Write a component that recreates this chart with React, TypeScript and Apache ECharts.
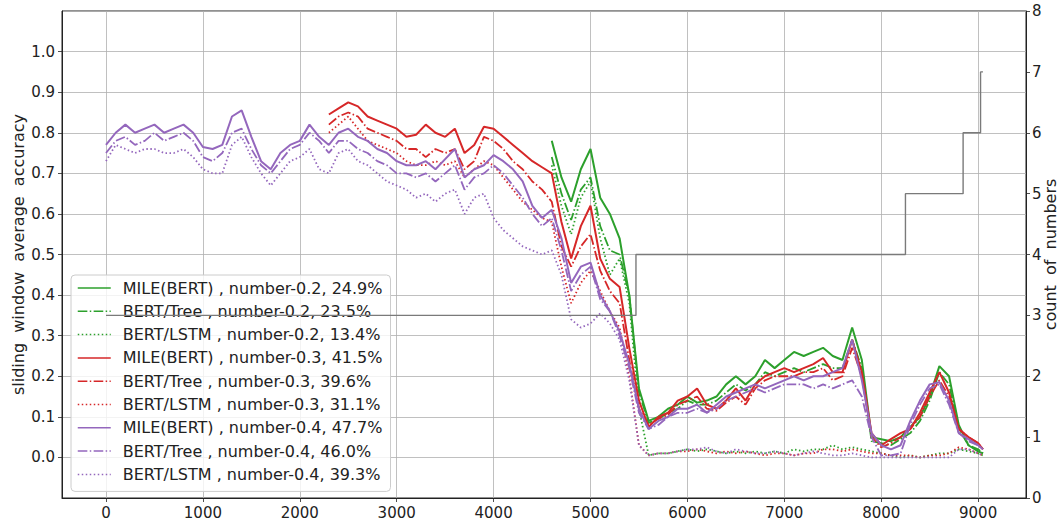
import React, { useEffect, useRef } from "react";
import * as echarts from "echarts";

// sample positions (x) shared by all accuracy series
const X = [
  0, 100, 200, 300, 400, 500, 600, 700, 800, 900,
  1000, 1100, 1200, 1300, 1400, 1500, 1600, 1700, 1800, 1900,
  2000, 2100, 2200, 2300, 2400, 2500, 2600, 2700, 2800, 2900,
  3000, 3100, 3200, 3300, 3400, 3500, 3600, 3700, 3800, 3900,
  4000, 4100, 4200, 4300, 4400, 4500, 4600, 4700, 4800, 4900,
  5000, 5100, 5200, 5300, 5400, 5500, 5600, 5700, 5800, 5900,
  6000, 6100, 6200, 6300, 6400, 6500, 6600, 6700, 6800, 6900,
  7000, 7100, 7200, 7300, 7400, 7500, 7600, 7700, 7800, 7900,
  8000, 8100, 8200, 8300, 8400, 8500, 8600, 8700, 8800, 8900,
  9000, 9050,
];
const RED_START = 23; // x = 2300
const GREEN_START = 46; // x = 4600

// number-0.4 (purple), from x = 0
const P_MILE = [
  0.77, 0.80, 0.82, 0.80, 0.81, 0.82, 0.80, 0.81, 0.82, 0.80,
  0.765, 0.76, 0.77, 0.84, 0.855, 0.79, 0.73, 0.71, 0.75, 0.77,
  0.78, 0.82, 0.79, 0.77, 0.80, 0.81, 0.79, 0.78, 0.76, 0.75,
  0.73, 0.72, 0.72, 0.73, 0.71, 0.735, 0.76, 0.69, 0.71, 0.72,
  0.745, 0.73, 0.71, 0.68, 0.62, 0.59, 0.61, 0.54, 0.43, 0.47,
  0.48, 0.40, 0.36, 0.31, 0.23, 0.12, 0.07, 0.09, 0.10, 0.12,
  0.12, 0.13, 0.11, 0.13, 0.15, 0.16, 0.17, 0.18, 0.17, 0.18,
  0.19, 0.20, 0.19, 0.20, 0.20, 0.21, 0.22, 0.29, 0.19, 0.06,
  0.03, 0.02, 0.03, 0.09, 0.14, 0.18, 0.185, 0.14, 0.06, 0.045,
  0.03, 0.02,
];
const P_TREE = [
  0.75, 0.78, 0.79, 0.77, 0.78, 0.80, 0.78, 0.79, 0.80, 0.78,
  0.74, 0.73, 0.75, 0.80, 0.81, 0.76, 0.72, 0.70, 0.73, 0.76,
  0.77, 0.80, 0.78, 0.75, 0.78, 0.78, 0.76, 0.75, 0.73, 0.72,
  0.70, 0.70, 0.69, 0.70, 0.68, 0.70, 0.72, 0.66, 0.69, 0.70,
  0.72, 0.70, 0.67, 0.64, 0.60, 0.57, 0.59, 0.51, 0.41, 0.45,
  0.47, 0.39, 0.36, 0.30, 0.22, 0.11, 0.07, 0.08, 0.10, 0.11,
  0.11, 0.12, 0.11, 0.12, 0.14, 0.15, 0.16, 0.17, 0.16, 0.17,
  0.18, 0.18, 0.18, 0.17, 0.18, 0.17, 0.18, 0.19, 0.15, 0.05,
  0.005, 0.005, 0.01, 0.08, 0.13, 0.17, 0.18, 0.13, 0.06, 0.04,
  0.03, 0.02,
];
const P_LSTM = [
  0.73, 0.77, 0.76, 0.75, 0.76, 0.76, 0.75, 0.75, 0.76, 0.74,
  0.71, 0.70, 0.70, 0.77, 0.79, 0.74, 0.70, 0.67, 0.70, 0.73,
  0.74, 0.76, 0.71, 0.70, 0.75, 0.76, 0.73, 0.72, 0.70, 0.68,
  0.67, 0.66, 0.64, 0.65, 0.63, 0.65, 0.66, 0.60, 0.64, 0.65,
  0.59, 0.56, 0.54, 0.52, 0.51, 0.50, 0.51, 0.45, 0.34, 0.32,
  0.33, 0.355, 0.33, 0.29, 0.19, 0.03, 0.005, 0.01, 0.01, 0.015,
  0.02, 0.02, 0.025, 0.015, 0.01, 0.02, 0.015, 0.01, 0.01, 0.015,
  0.01, 0.005, 0.01, 0.015, 0.01, 0.005, 0.005, 0.01, 0.005, 0.0,
  0.0, 0.0, 0.0, 0.0, 0.0, 0.0, 0.0, 0.0, 0.02, 0.02,
  0.01, 0.005,
];

// number-0.3 (red), from x = 2300
const R_MILE = [
  0.845, 0.86, 0.875, 0.865, 0.84, 0.83, 0.82,
  0.81, 0.79, 0.795, 0.82, 0.80, 0.79, 0.81, 0.75, 0.77, 0.815,
  0.81, 0.79, 0.77, 0.75, 0.73, 0.715, 0.70, 0.58, 0.49, 0.57,
  0.62, 0.49, 0.44, 0.42, 0.27, 0.14, 0.075, 0.10, 0.11, 0.14,
  0.15, 0.17, 0.13, 0.12, 0.14, 0.17, 0.14, 0.18, 0.20, 0.21,
  0.22, 0.21, 0.22, 0.23, 0.245, 0.21, 0.21, 0.29, 0.21, 0.06,
  0.03, 0.045, 0.06, 0.07, 0.11, 0.16, 0.21, 0.16, 0.07, 0.05,
  0.035, 0.02,
];
const R_TREE = [
  0.82, 0.84, 0.85, 0.84, 0.81, 0.80, 0.79,
  0.78, 0.76, 0.76, 0.74, 0.76, 0.75, 0.76, 0.71, 0.73, 0.79,
  0.78, 0.76, 0.73, 0.71, 0.68, 0.66, 0.63, 0.52, 0.47, 0.52,
  0.55, 0.46, 0.41, 0.38, 0.24, 0.12, 0.08, 0.095, 0.105, 0.13,
  0.14, 0.15, 0.12, 0.115, 0.135, 0.15, 0.13, 0.17, 0.19, 0.20,
  0.20, 0.20, 0.21, 0.21, 0.22, 0.19, 0.20, 0.27, 0.20, 0.05,
  0.025, 0.035, 0.05, 0.07, 0.10, 0.15, 0.19, 0.15, 0.07, 0.05,
  0.035, 0.02,
];
const R_LSTM = [
  0.80, 0.82, 0.84, 0.81, 0.78, 0.77, 0.76,
  0.75, 0.73, 0.72, 0.72, 0.73, 0.72, 0.73, 0.69, 0.71, 0.73,
  0.72, 0.69, 0.66, 0.63, 0.61, 0.59, 0.58, 0.47, 0.38, 0.43,
  0.46, 0.41, 0.36, 0.32, 0.20, 0.03, 0.005, 0.01, 0.01, 0.015,
  0.015, 0.02, 0.015, 0.01, 0.015, 0.01, 0.015, 0.01, 0.005, 0.01,
  0.01, 0.005, 0.01, 0.01, 0.02, 0.02, 0.015, 0.02, 0.015, 0.01,
  0.01, 0.005, 0.005, 0.005, 0.0, 0.005, 0.005, 0.01, 0.025, 0.02,
  0.01, 0.005,
];

// number-0.2 (green), from x = 4600
const G_MILE = [
  0.78, 0.69, 0.63, 0.71,
  0.76, 0.64, 0.60, 0.54, 0.40, 0.17, 0.09, 0.10, 0.12, 0.13,
  0.15, 0.135, 0.14, 0.15, 0.18, 0.20, 0.18, 0.20, 0.24, 0.22,
  0.24, 0.26, 0.25, 0.26, 0.27, 0.25, 0.24, 0.32, 0.24, 0.05,
  0.045, 0.04, 0.05, 0.075, 0.10, 0.15, 0.225, 0.20, 0.08, 0.03,
  0.015, 0.01,
];
const G_TREE = [
  0.74, 0.65, 0.585, 0.66,
  0.69, 0.57, 0.51, 0.50, 0.40, 0.16, 0.085, 0.095, 0.11, 0.12,
  0.14, 0.13, 0.13, 0.14, 0.16, 0.18, 0.165, 0.18, 0.21, 0.20,
  0.21, 0.22, 0.21, 0.22, 0.23, 0.22, 0.22, 0.29, 0.22, 0.04,
  0.035, 0.03, 0.045, 0.06, 0.09, 0.14, 0.21, 0.18, 0.07, 0.03,
  0.02, 0.01,
];
const G_LSTM = [
  0.72, 0.62, 0.55, 0.64,
  0.68, 0.54, 0.45, 0.49, 0.38, 0.12, 0.005, 0.01, 0.01, 0.015,
  0.02, 0.015, 0.02, 0.015, 0.01, 0.015, 0.01, 0.015, 0.01, 0.015,
  0.01, 0.02, 0.015, 0.02, 0.02, 0.03, 0.02, 0.025, 0.02, 0.015,
  0.01, 0.005, 0.0, 0.005, 0.0, 0.005, 0.01, 0.01, 0.02, 0.015,
  0.01, 0.005,
];

// count of numbers (right axis), value changes at these x
const COUNT_X = [0, 5469, 8250, 8845, 9025, 9050];
const COUNT_Y = [3, 4, 5, 6, 7, 7];

const NAMES = [
  "MILE(BERT) , number-0.2, 24.9%",
  "BERT/Tree , number-0.2, 23.5%",
  "BERT/LSTM , number-0.2, 13.4%",
  "MILE(BERT) , number-0.3, 41.5%",
  "BERT/Tree , number-0.3, 39.6%",
  "BERT/LSTM , number-0.3, 31.1%",
  "MILE(BERT) , number-0.4, 47.7%",
  "BERT/Tree , number-0.4, 46.0%",
  "BERT/LSTM , number-0.4, 39.3%",
];
const LEFT_TITLE = "sliding  window  average  accuracy";
const RIGHT_TITLE = "count  of  numbers";

const GREEN = "#2ca02c";
const RED = "#d62728";
const PURPLE = "#9467bd";
const FONT = "DejaVu Sans";

const pairs = (ys: number[], start: number) => ys.map((y, i) => [X[start + i], y]);

const DASHDOT = [9.6, 2.4, 1.5, 2.4];
const DOTTED = [1.5, 2.5];

function lineSeries(name: string, color: string, ys: number[], start: number, type: any) {
  const solid = type === "solid";
  return {
    name,
    type: "line",
    data: pairs(ys, start),
    symbol: "none",
    showSymbol: false,
    xAxisIndex: 0,
    yAxisIndex: 0,
    z: 2,
    lineStyle: { color, width: solid ? 2 : 1.8, type, cap: "butt" },
    itemStyle: { color },
    emphasis: { disabled: true },
  };
}

export default function App() {
  const ref = useRef<HTMLDivElement>(null);
  useEffect(() => {
    document.body.style.margin = "0";
    const chart = echarts.init(ref.current!, null, { renderer: "svg" });
    const axisColor = "#222";
    const option: any = {
      animation: false,
      backgroundColor: "#ffffff",
      textStyle: { fontFamily: FONT },
      grid: {
        left: 62,
        right: 35,
        top: 11,
        bottom: 26,
        containLabel: false,
        outerBoundsMode: "none",
        show: true,
        borderColor: axisColor,
        borderWidth: 1,
        backgroundColor: "transparent",
      },
      graphic: [
        {
          type: "text",
          x: 18,
          y: 254.5,
          rotation: Math.PI / 2,
          style: {
            text: LEFT_TITLE,
            fontFamily: FONT,
            fontSize: 16,
            fill: axisColor,
            align: "center",
            verticalAlign: "middle",
          },
        },
        {
          type: "text",
          x: 1050,
          y: 254.5,
          rotation: Math.PI / 2,
          style: {
            text: RIGHT_TITLE,
            fontFamily: FONT,
            fontSize: 16,
            fill: axisColor,
            align: "center",
            verticalAlign: "middle",
          },
        },
      ],
      legend: {
        data: NAMES,
        orient: "vertical",
        left: 71,
        top: 275,
        itemWidth: 33,
        itemHeight: 14,
        itemGap: 7.3,
        padding: [5, 8, 9, 6],
        backgroundColor: "rgba(255,255,255,0.8)",
        borderColor: "#cccccc",
        borderWidth: 1,
        borderRadius: 4,
        selectedMode: false,
        itemStyle: { opacity: 0, borderWidth: 0 },
        lineStyle: { width: 1.5 },
        textStyle: {
          fontFamily: FONT,
          fontSize: 16,
          color: "#222",
          lineHeight: 16,
          padding: [0, 0, 0, 7],
        },
        z: 4,
      },
      xAxis: {
        type: "value",
        min: -454,
        max: 9494,
        splitNumber: 10,
        axisLine: { show: true, onZero: false, lineStyle: { color: axisColor, width: 1 } },
        axisTick: { show: true, length: 4, lineStyle: { color: axisColor, width: 0.8 } },
        axisLabel: {
          fontFamily: FONT,
          fontSize: 15,
          color: axisColor,
          margin: 7,
          showMinLabel: false,
          showMaxLabel: false,
          formatter: (v: number) => String(Math.round(v)),
        },
        splitLine: { show: true, lineStyle: { color: "#b0b0b0", width: 0.8 } },
      },
      yAxis: [
        {
          type: "value",
          min: -0.1,
          max: 1.1,
          interval: 0.1,
          position: "left",
          axisLine: { show: true, onZero: false, lineStyle: { color: axisColor, width: 1 } },
          axisTick: { show: true, length: 4, lineStyle: { color: axisColor, width: 0.8 } },
          axisLabel: {
            fontFamily: FONT,
            fontSize: 15,
            color: axisColor,
            margin: 7,
            showMinLabel: false,
            showMaxLabel: false,
            formatter: (v: number) => (Math.abs(v) < 1e-9 ? 0 : v).toFixed(1),
          },
          splitLine: { show: true, lineStyle: { color: "#b0b0b0", width: 0.8 } },
        },
        {
          type: "value",
          min: 0,
          max: 8,
          interval: 1,
          position: "right",
          axisLine: { show: true, onZero: false, lineStyle: { color: axisColor, width: 1 } },
          axisTick: { show: true, length: 4, lineStyle: { color: axisColor, width: 0.8 } },
          axisLabel: { fontFamily: FONT, fontSize: 15, color: axisColor, margin: 6 },
          splitLine: { show: false },
        },
      ],
      series: [
        lineSeries(NAMES[0], GREEN, G_MILE, GREEN_START, "solid"),
        lineSeries(NAMES[1], GREEN, G_TREE, GREEN_START, DASHDOT),
        lineSeries(NAMES[2], GREEN, G_LSTM, GREEN_START, DOTTED),
        lineSeries(NAMES[3], RED, R_MILE, RED_START, "solid"),
        lineSeries(NAMES[4], RED, R_TREE, RED_START, DASHDOT),
        lineSeries(NAMES[5], RED, R_LSTM, RED_START, DOTTED),
        lineSeries(NAMES[6], PURPLE, P_MILE, 0, "solid"),
        lineSeries(NAMES[7], PURPLE, P_TREE, 0, DASHDOT),
        lineSeries(NAMES[8], PURPLE, P_LSTM, 0, DOTTED),
        {
          name: "count",
          type: "line",
          step: "end",
          data: COUNT_X.map((x, i) => [x, COUNT_Y[i]]),
          xAxisIndex: 0,
          yAxisIndex: 1,
          symbol: "none",
          showSymbol: false,
          z: 6,
          lineStyle: { color: "#7a7a7a", width: 1.4 },
          itemStyle: { color: "#7a7a7a" },
          emphasis: { disabled: true },
        },
      ],
    };
    chart.setOption(option);
    return () => chart.dispose();
  }, []);
  return <div ref={ref} style={{ width: 1061, height: 524 }} />;
}
